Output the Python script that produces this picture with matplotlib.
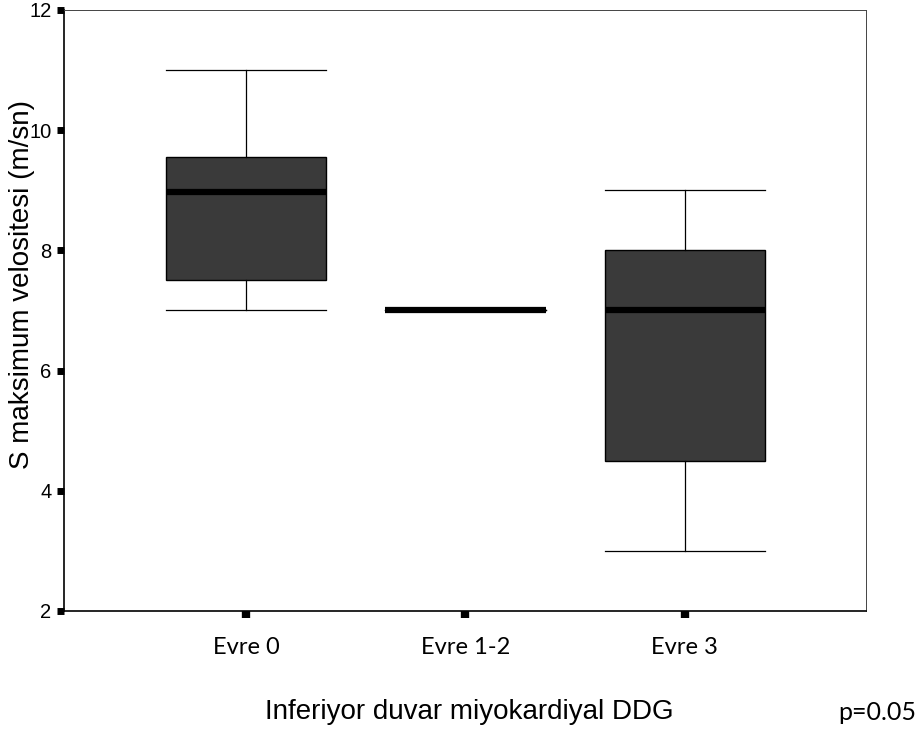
import matplotlib.pyplot as plt

groups = ['Evre 0', 'Evre 1-2', 'Evre 3']
whislo = [7.0, 7.0, 3.0]
q1 = [7.5, 7.0, 4.5]
med = [8.97, 7.0, 7.0]
q3 = [9.55, 7.0, 8.0]
whishi = [11.0, 7.0, 9.0]
yticks = [2, 4, 6, 8, 10, 12]

fig = plt.figure(figsize=(9.23, 7.33), dpi=100)
ax = fig.add_axes([64/923, 1-611/733, (866-64)/923, (611-10)/733])

stats = []
for i in range(len(groups)):
    stats.append(dict(whislo=whislo[i], q1=q1[i], med=med[i], q3=q3[i],
                      whishi=whishi[i], fliers=[], label=groups[i]))

ax.bxp(stats, positions=[1, 2, 3], widths=0.73, patch_artist=True,
       showfliers=False,
       boxprops=dict(facecolor='#3a3a3a', edgecolor='black', linewidth=1),
       medianprops=dict(color='black', linewidth=4.5, solid_capstyle='butt'),
       whiskerprops=dict(color='black', linewidth=0.9),
       capprops=dict(color='black', linewidth=0.9),
       capwidths=0.73)

ax.set_xlim(0.171, 3.825)
ax.set_ylim(2, 12)
ax.set_yticks(yticks)
ax.set_yticklabels([str(t) for t in yticks], fontsize=14.5, family='Liberation Sans')
ax.set_xticks([1, 2, 3])
ax.set_xticklabels(groups, fontsize=17, family='Lato')

ax.tick_params(axis='y', length=5, width=5, pad=4)
ax.tick_params(axis='x', length=5, width=6, pad=14)
for s in ['left', 'bottom']:
    ax.spines[s].set_linewidth(1.2)
for s in ['top', 'right']:
    ax.spines[s].set_linewidth(0.7)
    ax.spines[s].set_color('#444444')

ax.set_ylabel('S maksimum velositesi (m/sn)', fontsize=20, family='Liberation Sans')
ax.yaxis.set_label_coords(-0.036, 0.544)
ax.set_xlabel('Inferiyor duvar miyokardiyal DDG', fontsize=20, family='Liberation Sans')
ax.xaxis.set_label_coords(0.505, -0.146)

fig.text(877/923, 1-713/733, 'p=0.05', fontsize=18, family='Lato',
         ha='center', va='center')

fig.savefig('out.png', dpi=100)
